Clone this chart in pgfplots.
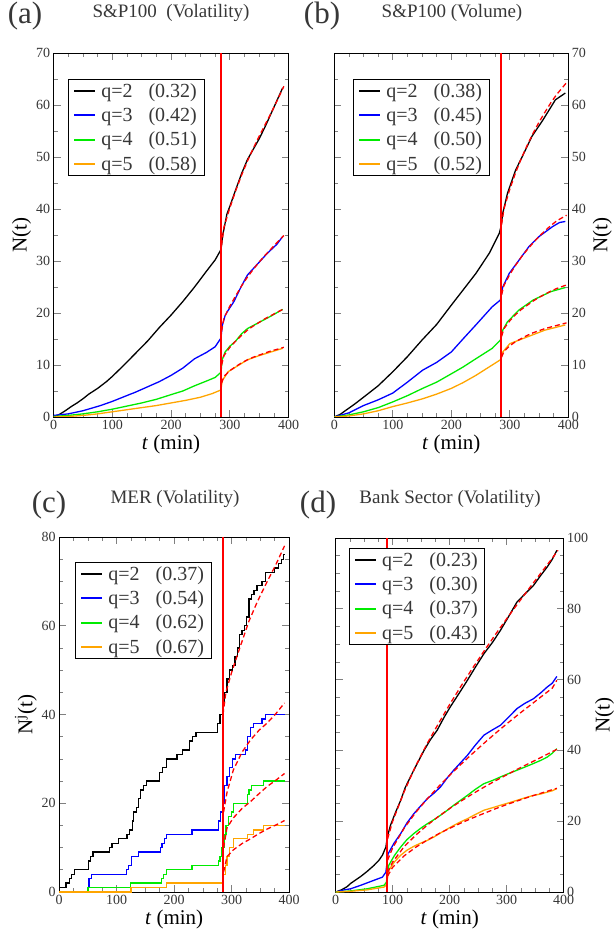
\documentclass[border=0pt]{standalone}
\usepackage{fontspec}
\setmainfont{Liberation Serif}
\usepackage{pgfplots}
\pgfplotsset{compat=1.18}
\definecolor{myorange}{RGB}{255,165,0}
\definecolor{mygreen}{RGB}{0,235,0}
\definecolor{txt}{RGB}{55,55,55}
\pgfplotsset{
  panel/.style={
    scale only axis, anchor=south west,
    xmin=0, xmax=400, xtick={0,100,200,300,400},
    minor x tick num=3,
    major tick length=7pt, minor tick length=4pt,
    axis line style={line width=0.9pt},
    tick style={line width=0.7pt},
    tick label style={font=\fontsize{14}{16}\selectfont, text=txt},
    /pgf/number format/assume math mode=true,
    xlabel={\textit{t} (min)},
    xlabel style={font=\fontsize{21}{24}\selectfont, yshift=2pt},
    ylabel style={font=\fontsize{21}{24}\selectfont},
    legend cell align=left,
    legend style={font=\fontsize{20}{22}\selectfont, draw=black, line width=0.7pt,
      anchor=north west, inner xsep=5pt, inner ysep=2pt, row sep=5pt, text=txt},
    legend image code/.code={\draw[#1, line width=1.8pt] (0pt,0pt) -- (21pt,0pt);},
    every axis plot/.append style={line width=1.3pt},
  },
  fit/.style={red, line width=1.3pt, dash pattern=on 5pt off 3pt, forget plot},
  vline/.style={red, line width=1.2pt, forget plot},
}
\newcommand{\ent}[2]{\hspace{3pt}q=#1\hspace{16pt}(#2)}
\begin{document}
\begin{tikzpicture}
\useasboundingbox (0,0) rectangle (614pt,936pt);
% ---------------- (a)
\begin{axis}[panel, at={(53.56pt,519pt)}, width=235pt, height=364pt,
  ymin=0, ymax=70, ytick={0,10,...,70}, minor y tick num=1,
  ylabel={N(t)}, ylabel style={yshift=-2pt},
  legend style={at={(0.062,0.929)}}]
\addplot[black] coordinates {(0,0) (10,0.5) (20,1.2) (30,2.0) (40,2.7) (50,3.5) (60,4.4) (75,5.5) (90,6.8) (100,7.8) (120,10) (140,12.3) (160,14.6) (180,17.2) (200,19.6) (220,22.2) (240,25) (260,28) (275,30.2) (285,32.2) (288,35) (295,39) (300,40.5) (310,43.7) (320,46.8) (330,49.5) (340,51.5) (350,53.5) (360,55.8) (370,58.3) (380,60.8) (390,63.3)};
\addplot[blue] coordinates {(0,0.3) (25,0.6) (50,1.2) (80,2.2) (100,3.0) (120,3.9) (140,4.8) (160,5.8) (180,6.8) (200,8.0) (220,9.4) (240,11.2) (260,12.4) (275,13.5) (285,15.2) (287,17.5) (292,19.5) (296,20.3) (307,22.2) (319,25) (330,27.3) (347,29.4) (364,31.5) (380,33.2) (390,34.7)};
\addplot[mygreen] coordinates {(0,0.1) (25,0.3) (50,0.6) (75,1.0) (100,1.5) (125,2.1) (150,2.7) (175,3.4) (200,4.3) (220,5.0) (240,6.0) (260,6.9) (275,7.6) (285,8.6) (287,11) (292,12.5) (300,13.6) (310,14.6) (320,16) (330,17) (350,18.2) (370,19.4) (390,20.7)};
\addplot[myorange] coordinates {(0,0) (25,0.1) (50,0.3) (75,0.6) (100,1.0) (125,1.4) (150,1.8) (175,2.2) (200,2.7) (225,3.2) (250,3.8) (270,4.5) (285,5.2) (287,7) (292,7.8) (297,8.7) (310,9.6) (330,11) (350,11.8) (370,12.5) (390,13.2)};
\addplot[fit] coordinates {(286,33) (290,36.5) (300,40.2) (310,43.5) (320,46.5) (330,49.2) (340,51.7) (350,54) (360,56.2) (370,58.4) (380,60.7) (392,63.6)};
\addplot[fit] coordinates {(286,16.5) (290,19) (300,21.3) (310,23.3) (320,25.2) (330,26.9) (340,28.4) (350,29.8) (360,31.1) (370,32.3) (380,33.5) (392,34.9)};
\addplot[fit] coordinates {(286,10) (290,11.8) (300,13.4) (310,14.6) (320,15.7) (330,16.7) (340,17.5) (350,18.2) (360,18.9) (370,19.5) (380,20.1) (392,20.8)};
\addplot[fit] coordinates {(286,6.5) (290,7.8) (300,8.9) (310,9.7) (320,10.4) (330,11) (340,11.5) (350,11.9) (360,12.3) (370,12.7) (380,13) (392,13.4)};
\addplot[vline] coordinates {(285,0) (285,70)};
\legend{\ent{2}{0.32}, \ent{3}{0.42}, \ent{4}{0.51}, \ent{5}{0.58}}
\end{axis}
% ---------------- (b)
\begin{axis}[panel, at={(334.28pt,519pt)}, width=234pt, height=364pt,
  ymin=0, ymax=70, ytick={0,10,...,70}, minor y tick num=1,
  yticklabel pos=right, ylabel near ticks, ylabel={N(t)},
  ylabel style={font=\fontsize{21}{24}\selectfont},
  legend style={at={(0.081,0.929)}}]
\addplot[black] coordinates {(0,0) (10,0.5) (20,1.3) (35,2.5) (50,3.8) (75,6.0) (100,8.7) (125,11.6) (150,14.8) (175,17.8) (200,21.5) (220,24.4) (242,27.6) (265,31.5) (282,35.3) (285,36.6) (288,39.2) (296,43) (310,47.5) (321,50) (338,54) (356,57) (367,59) (378,61) (395,62.3)};
\addplot[blue] coordinates {(0,0) (25,0.8) (50,2.2) (75,3.3) (100,4.6) (125,6.7) (151,9) (175,10.5) (200,12.5) (220,15) (242,17.7) (270,21.2) (284,22.5) (288,25) (299,27.6) (316,30.2) (333,32.8) (350,34.7) (373,36.6) (385,37.4) (395,37.6)};
\addplot[mygreen] coordinates {(0,0) (25,0.4) (50,1.0) (75,1.8) (100,2.9) (125,4.1) (151,5.5) (175,6.7) (200,8.3) (220,9.6) (242,11.2) (270,13.2) (284,14.8) (288,16.7) (296,18.3) (316,20.6) (340,22.5) (370,24.1) (395,24.9)};
\addplot[myorange] coordinates {(0,0) (25,0.2) (50,0.6) (75,1.2) (100,2.0) (125,2.7) (151,3.5) (175,4.4) (200,5.5) (220,6.6) (242,8) (270,10) (284,11) (288,12.5) (300,14.1) (330,15.4) (360,16.7) (395,17.7)};
\addplot[fit] coordinates {(286,37) (290,40) (300,43.8) (310,47) (320,49.8) (330,52.3) (340,54.6) (350,56.7) (360,58.6) (370,60.4) (380,62) (397,64.3)};
\addplot[fit] coordinates {(286,23.5) (290,25.3) (300,27.4) (310,29.2) (320,30.8) (330,32.2) (340,33.5) (350,34.7) (360,35.8) (370,36.8) (380,37.7) (397,38.8)};
\addplot[fit] coordinates {(286,15.5) (290,17) (300,18.5) (310,19.7) (320,20.7) (330,21.5) (340,22.3) (350,23) (360,23.6) (370,24.2) (380,24.7) (397,25.4)};
\addplot[fit] coordinates {(286,11.5) (290,12.6) (300,13.7) (310,14.5) (320,15.1) (330,15.7) (340,16.2) (350,16.6) (360,17) (370,17.3) (380,17.6) (397,18.1)};
\addplot[vline] coordinates {(285,0) (285,70)};
\legend{\ent{2}{0.38}, \ent{3}{0.45}, \ent{4}{0.50}, \ent{5}{0.52}}
\end{axis}
% ---------------- (c)
\begin{axis}[panel, at={(59.13pt,44pt)}, width=230pt, height=355pt,
  ymin=0, ymax=80, ytick={0,20,...,80}, minor y tick num=3,
  ylabel={N\textsuperscript{j}(t)}, ylabel style={yshift=-2pt},
  legend style={at={(0.07,0.93)}}]
\addplot[black, const plot] coordinates {(0,1) (12,2) (18,3) (22,4) (27,5) (51,7) (55,8) (59,9) (88,10) (92,11) (103,12) (118,13) (122,14) (127,16) (129,18) (135,19) (138,21) (142,23) (147,24) (152,25) (174,27) (180,28) (187,30) (205,31) (215,32) (227,34) (232,35) (238,36) (276,38) (280,40) (284,42) (288,45) (292,48) (296,50) (301,51) (306,53) (310,55) (314,58) (318,59) (322,60) (326,62) (330,66) (335,67) (339,68) (344,69) (353,70) (359,72) (374,73) (382,74) (387,75) (390,76) (392,76)};
\addplot[blue, const plot] coordinates {(0,0) (50,1) (52,3) (56,4) (117,5) (121,6) (126,8) (138,9) (176,10) (179,11) (183,12) (187,13) (231,14) (277,16) (281,18) (285,20) (288,24) (292,26) (296,28) (301,30) (307,31) (324,32) (328,35) (333,37) (338,38) (353,39) (359,40) (392,40)};
\addplot[mygreen, const plot] coordinates {(0,0) (50,1) (124,2) (178,3) (181,4) (187,5) (231,6) (277,7) (280,8) (283,10) (287,13) (290,15) (294,17) (300,18) (303,20) (327,22) (330,23) (335,24) (356,25) (392,25)};
\addplot[myorange, const plot] coordinates {(0,0) (125,1) (187,2) (285,4) (289,6) (292,8) (296,10) (303,12) (327,13) (338,14) (356,15) (392,15)};
\addplot[fit] coordinates {(285,40) (290,45) (300,49.5) (315,55.3) (330,61) (345,65.5) (362,70) (377,73.8) (392,78)};
\addplot[fit] coordinates {(286,18) (292,22.5) (303,27.5) (318,31.5) (333,34.3) (348,36.5) (362,38.1) (377,40.2) (392,42.6)};
\addplot[fit] coordinates {(286,10) (292,14.5) (303,16.7) (318,18.8) (333,20.4) (348,22.2) (362,23.8) (377,25.2) (392,26.7)};
\addplot[fit] coordinates {(286,4.5) (292,8) (303,9.5) (318,10.9) (333,12) (348,13.2) (362,14.2) (377,15.1) (392,16.1)};
\addplot[vline] coordinates {(285,0) (285,80)};
\legend{\ent{2}{0.37}, \ent{3}{0.54}, \ent{4}{0.62}, \ent{5}{0.67}}
\end{axis}
% ---------------- (d)
\begin{axis}[panel, at={(335.7pt,44pt)}, width=228pt, height=354pt,
  ymin=0, ymax=100, ytick={0,20,...,100}, minor y tick num=3,
  yticklabel pos=right, ylabel near ticks, ylabel={N(t)},
  ylabel style={font=\fontsize{21}{24}\selectfont},
  legend style={at={(0.058,0.972)}}]
\addplot[black] coordinates {(0,0) (10,0.6) (20,1.5) (26,2.4) (35,3.4) (44,4.4) (55,5.8) (67,7.5) (76,9) (82,10.4) (88,12.7) (90.5,15.5) (96,18.8) (105,22.5) (114,25.9) (122,29.5) (131,32.5) (143,36.3) (155,40) (166,43) (178,45.7) (190,49.3) (201,52.3) (216,56) (231,59.8) (245,63.5) (260,67.3) (275,70.5) (289,73.9) (304,78) (318,81.9) (332,84.2) (347,86.6) (360,89.5) (371,91.8) (380,94) (388,96.5)};
\addplot[blue] coordinates {(0,0) (15,0.6) (26,0.9) (44,1.9) (67,3.3) (82,4.2) (88,5.6) (92,10.8) (102,13.7) (114,16.5) (125,19.5) (137,22.1) (149,24.3) (161,26.4) (173,28) (184,29.7) (196,32.3) (207,34.4) (219,36.5) (231,38.6) (245,41.5) (260,44.3) (275,45.8) (289,47.1) (304,49.5) (318,51.8) (332,53.3) (347,54.6) (360,56.3) (371,57.9) (380,59) (388,60.9)};
\addplot[mygreen] coordinates {(0,0) (26,0.3) (55,0.9) (85,1.9) (89,2.8) (93,7.5) (103,10.3) (114,12.7) (125,14.8) (137,16.5) (149,18) (161,19.3) (173,20.5) (184,21.7) (196,23.1) (207,24.5) (219,25.9) (231,27.3) (245,29) (260,30.6) (275,31.5) (289,32.5) (304,33.5) (318,34.4) (332,35.3) (347,36.3) (360,37.2) (371,38.1) (380,39.2) (388,40.5)};
\addplot[myorange] coordinates {(0,0) (26,0.2) (55,0.6) (85,1.4) (89,2) (93,6.1) (103,8.5) (114,10.4) (125,11.8) (137,12.9) (149,13.8) (161,14.6) (173,15.6) (184,16.7) (196,17.8) (207,18.8) (219,19.8) (231,20.7) (245,21.9) (260,23.1) (275,23.8) (289,24.5) (304,25.2) (318,25.9) (332,26.6) (347,27.3) (360,27.7) (371,28.2) (380,28.6) (388,29.2)};
\addplot[fit] coordinates {(91,15) (100,20) (120,28.3) (140,35.5) (160,41.8) (180,47.5) (200,53) (220,58.2) (240,63.2) (260,68) (280,72.7) (300,77.2) (320,81.6) (340,85.9) (360,90.1) (380,94.3) (390,96.5)};
\addplot[fit] coordinates {(91,9) (100,12.5) (120,18) (140,22.4) (160,26.2) (180,29.7) (200,33) (220,36.1) (240,39.1) (260,42) (280,44.8) (300,47.5) (320,50.1) (340,52.6) (360,55.1) (380,57.6) (388,59.8)};
\addplot[fit] coordinates {(91,5.5) (100,8.5) (120,12.8) (140,16) (160,18.8) (180,21.3) (200,23.6) (220,25.7) (240,27.7) (260,29.6) (280,31.4) (300,33.1) (320,34.8) (340,36.4) (360,38) (388,40.3)};
\addplot[fit] coordinates {(91,4.5) (100,7) (120,10.2) (140,12.6) (160,14.6) (180,16.4) (200,18) (220,19.5) (240,20.9) (260,22.2) (280,23.5) (300,24.7) (320,25.8) (340,26.9) (360,27.9) (388,29.3)};
\addplot[vline] coordinates {(90,0) (90,100)};
\legend{\ent{2}{0.23}, \ent{3}{0.30}, \ent{4}{0.37}, \ent{5}{0.43}}
\end{axis}
% ---------------- panel titles
\node[font=\fontsize{31}{33}\selectfont, text=txt] at (25pt,920pt) {(a)};
\node[font=\fontsize{19}{21}\selectfont, text=txt] at (171pt,923pt) {S\&P100\ \ (Volatility)};
\node[font=\fontsize{31}{33}\selectfont, text=txt] at (322pt,920pt) {(b)};
\node[font=\fontsize{19}{21}\selectfont, text=txt] at (452pt,923pt) {S\&P100 (Volume)};
\node[font=\fontsize{31}{33}\selectfont, text=txt] at (49pt,431pt) {(c)};
\node[font=\fontsize{19}{21}\selectfont, text=txt] at (175pt,437pt) {MER (Volatility)};
\node[font=\fontsize{31}{33}\selectfont, text=txt] at (318pt,431pt) {(d)};
\node[font=\fontsize{19}{21}\selectfont, text=txt] at (450pt,437pt) {Bank Sector (Volatility)};
\end{tikzpicture}
\end{document}
